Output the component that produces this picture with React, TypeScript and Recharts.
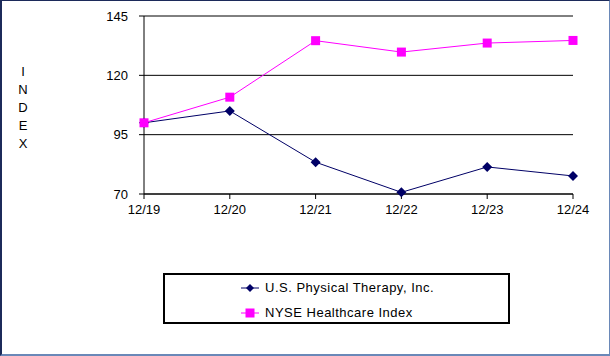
import React from 'react';
import { LineChart, Line, XAxis, YAxis, CartesianGrid } from 'recharts';

const years = ['12/19', '12/20', '12/21', '12/22', '12/23', '12/24'];
const usph = [100, 105, 83.4, 70.7, 81.4, 77.6];
const nyseHealth = [100, 110.8, 134.6, 129.8, 133.6, 134.7];
const yTicks = [70, 95, 120, 145];

const NAVY = '#000066';
const PINK = '#ff00ff';
const FONT = '"Liberation Sans", Arial, sans-serif';

const data = years.map((y, i) => ({ year: y, usph: usph[i], nyse: nyseHealth[i] }));

const Diamond = (props: any) => {
  const { cx, cy } = props;
  if (cx == null || cy == null) return null;
  return <path d={`M${cx},${cy - 5}L${cx + 5},${cy}L${cx},${cy + 5}L${cx - 5},${cy}Z`} fill={NAVY} />;
};

const Square = (props: any) => {
  const { cx, cy } = props;
  if (cx == null || cy == null) return null;
  return <rect x={cx - 4.5} y={cy - 4.5} width={9} height={9} fill={PINK} />;
};

const IndexLabel = () => (
  <g>
    {'INDEX'.split('').map((ch, i) => (
      <text key={i} x={23} y={76 + i * 18} textAnchor="middle" fontSize={13} fontFamily={FONT} fill="#000">
        {ch}
      </text>
    ))}
  </g>
);

const LegendRow = ({ color, label, square }: { color: string; label: string; square?: boolean }) => (
  <div style={{ display: 'flex', alignItems: 'center', height: 25 }}>
    <svg width={18} height={12} style={{ marginRight: 6 }}>
      <line x1={0} y1={6} x2={18} y2={6} stroke={color} strokeWidth={1} />
      {square ? (
        <rect x={4.5} y={1.5} width={9} height={9} fill={color} />
      ) : (
        <path d="M9,2L13,6L9,10L5,6Z" fill={color} />
      )}
    </svg>
    <span style={{ letterSpacing: 0.5 }}>{label}</span>
  </div>
);

export default function App() {
  return (
    <div style={{ position: 'absolute', left: 0, top: 0, width: 610, height: 356, background: '#fff', fontFamily: FONT }}>
      <LineChart width={610} height={356} data={data} margin={{ top: 16, right: 37, bottom: 0, left: 84 }}>
        <CartesianGrid vertical={false} stroke="#000" strokeWidth={1} />
        <XAxis
          dataKey="year"
          type="category"
          scale="point"
          padding={{ left: 0, right: 0 }}
          height={162}
          stroke="#000"
          tickSize={5}
          tickMargin={6}
          tick={{ fill: '#000', fontSize: 13, fontFamily: FONT }}
          interval={0}
        />
        <YAxis
          domain={[70, 145]}
          ticks={yTicks}
          width={60}
          stroke="#000"
          tickSize={5}
          tickMargin={11}
          tick={{ fill: '#000', fontSize: 13, fontFamily: FONT }}
          label={{ content: () => <IndexLabel /> }}
        />
        <Line dataKey="usph" stroke={NAVY} strokeWidth={1} dot={<Diamond />} isAnimationActive={false} />
        <Line dataKey="nyse" stroke={PINK} strokeWidth={1} dot={<Square />} isAnimationActive={false} />
      </LineChart>
      <div
        style={{
          position: 'absolute',
          left: 163,
          top: 273,
          width: 347,
          height: 51,
          boxSizing: 'border-box',
          border: '2px solid #000',
          paddingLeft: 76,
          fontSize: 13,
          color: '#000',
        }}
      >
        <LegendRow color={NAVY} label="U.S. Physical Therapy, Inc." />
        <LegendRow color={PINK} label="NYSE Healthcare Index" square />
      </div>
      <div
        style={{
          position: 'absolute',
          left: 0,
          top: 0,
          width: 610,
          height: 356,
          boxSizing: 'border-box',
          borderTop: '1px solid #1c2a5a',
          borderLeft: '2px solid #1c2a5a',
          borderRight: '1px solid #6a88b8',
          borderBottom: '2px solid #6a88b8',
          pointerEvents: 'none',
        }}
      />
    </div>
  );
}
